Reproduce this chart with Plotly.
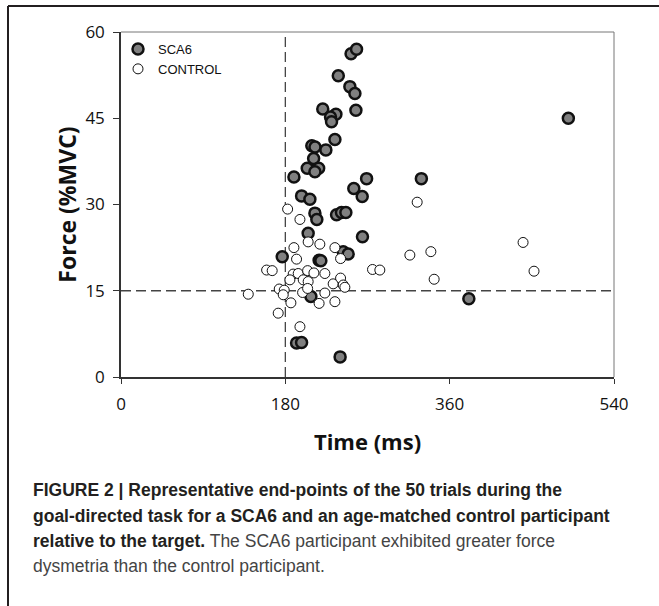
import plotly.graph_objects as go

# ---- data ----
sca6_time = [221, 209, 212.5, 211, 204, 216.5, 212.4, 189.4, 197.8, 206.9,
             212.4, 214.5, 205, 217, 176.6, 208, 192.3, 197.8, 238, 250.7,
             256.2, 257.3, 235.4, 229.5, 230.6, 234.3, 224.4, 269, 329, 255,
             264.2, 236.1, 241.5, 246.3, 264.5, 243.4, 248.8, 218.9, 381,
             252, 258, 490, 240]
sca6_force = [46.6, 40.2, 40.0, 38.0, 36.3, 36.3, 35.7, 34.8, 31.5, 30.9,
              28.5, 27.4, 25.0, 20.3, 20.9, 14.0, 5.9, 6.0, 52.4, 50.5,
              49.3, 46.4, 45.7, 45.2, 44.4, 41.3, 39.5, 34.5, 34.5, 32.8,
              31.4, 28.2, 28.6, 28.6, 24.4, 21.8, 21.4, 20.2, 13.6,
              56.2, 57.0, 45.0, 3.5]

ctrl_time = [182.5, 196, 205, 189.4, 192.3, 159.5, 165.6, 188.6, 194.1, 204.4,
             199.6, 185, 205, 173.3, 178.8, 139.4, 177.7, 198.9, 204.4, 186.1,
             172.2, 196, 217, 324.4, 217.8, 234.3, 240.5, 316.4, 339.4, 275.5,
             283.5, 343, 440.4, 452.4, 211.3, 223.3, 232.4, 240.5, 243.4, 245.2,
             223.3, 234.3]
ctrl_force = [29.2, 27.4, 23.5, 22.5, 20.5, 18.6, 18.5, 17.9, 18.0, 18.5,
              16.9, 16.9, 16.6, 15.3, 15.1, 14.4, 14.3, 14.7, 15.4, 12.9,
              11.1, 8.75, 12.8, 30.4, 23.1, 22.5, 20.6, 21.2, 21.8, 18.7,
              18.6, 17.0, 23.4, 18.4, 18.1, 18.0, 16.2, 17.2, 16.0, 15.6,
              14.6, 13.1]

target_time = 180
target_force = 15
x_ticks = [0, 180, 360, 540]
y_ticks = [0, 15, 30, 45, 60]

W, H = 659, 606
L, R, T, B = 121, 45, 32, 229
pw, ph = W - L - R, H - T - B


def px(xp):
    return (xp - L) / pw


def py(yp):
    return (H - B - yp) / ph


fig = go.Figure()
fig.add_trace(go.Scatter(
    x=sca6_time, y=sca6_force, mode="markers", name="SCA6",
    marker=dict(size=11, color="#808080", line=dict(color="#111111", width=2.5))))
fig.add_trace(go.Scatter(
    x=ctrl_time, y=ctrl_force, mode="markers", name="CONTROL",
    marker=dict(size=10, color="white", line=dict(color="#111111", width=1))))

# dashed target lines
fig.add_shape(type="line", x0=target_time, x1=target_time, y0=0, y1=60,
              xref="x", yref="y", line=dict(color="#444444", width=1.3, dash="10px,5px"),
              layer="below")
fig.add_shape(type="line", x0=0, x1=540, y0=target_force, y1=target_force,
              xref="x", yref="y", line=dict(color="#444444", width=1.3, dash="10px,5px"),
              layer="below")

# outer frame of the figure
fig.add_shape(type="line", xref="paper", yref="paper",
              x0=px(8), x1=px(8), y0=py(6), y1=py(606),
              line=dict(color="#231f20", width=2))
fig.add_shape(type="line", xref="paper", yref="paper",
              x0=px(8), x1=px(659), y0=py(6), y1=py(6),
              line=dict(color="#231f20", width=2))

axis_font = dict(family="Open Sans, DejaVu Sans", size=17, color="#111111")
fig.update_xaxes(range=[0, 540], tickvals=x_ticks, ticks="outside", ticklen=5,
                 tickcolor="#333333", showline=True, linecolor="#333333", linewidth=1.5,
                 mirror=False, showgrid=False, zeroline=False, tickfont=axis_font,
                 ticklabelstandoff=6,
                 title=dict(text="<b>Time (ms)</b>", font=dict(family="Open Sans", size=22,
                            color="#111111"), standoff=20))
fig.update_yaxes(range=[0, 60], tickvals=y_ticks, ticks="outside", ticklen=6,
                 tickcolor="#333333", showline=True, linecolor="#333333", linewidth=1.5,
                 mirror=False, showgrid=False, zeroline=False, tickfont=axis_font,
                 ticklabelstandoff=5,
                 title=dict(text="<b>Force (%MVC)</b>", font=dict(family="Open Sans", size=23,
                            color="#111111"), standoff=2))

# box top/right
fig.add_shape(type="line", xref="paper", yref="paper", x0=0, x1=1, y0=1, y1=1,
              line=dict(color="#777777", width=1))
fig.add_shape(type="line", xref="paper", yref="paper", x0=1, x1=1, y0=0, y1=1,
              line=dict(color="#777777", width=1))

cap_font = dict(family="Liberation Sans Narrow, Liberation Sans", size=17.5, color="#231f20")
caption = [
    "<b>FIGURE 2 | Representative end-points of the 50 trials during the</b>",
    "<b>goal-directed task for a SCA6 and an age-matched control participant</b>",
    "<b>relative to the target.</b> <span style='color:#444444'>The SCA6 participant exhibited greater force</span>",
    "<span style='color:#444444'>dysmetria than the control participant.</span>",
]
cap_y = [490, 516, 541, 566]
for txt, yy in zip(caption, cap_y):
    fig.add_annotation(text=txt, xref="paper", yref="paper", x=px(31), y=py(yy),
                       xanchor="left", yanchor="middle", showarrow=False, font=cap_font)

fig.update_layout(
    width=W, height=H, margin=dict(l=L, r=R, t=T, b=B),
    paper_bgcolor="white", plot_bgcolor="white",
    showlegend=True,
    legend=dict(x=px(118), y=py(34), xanchor="left", yanchor="top",
                bgcolor="rgba(0,0,0,0)", font=dict(family="Liberation Sans", size=13,
                                                  color="#111111"),
                itemsizing="trace", tracegroupgap=0),
)

fig.write_html("out.html")
